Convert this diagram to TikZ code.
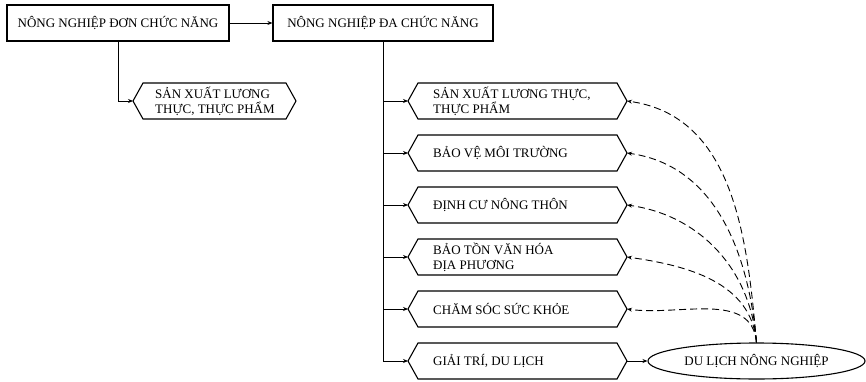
\documentclass[tikz,border=0pt]{standalone}
\usepackage{fontspec}
\setmainfont{Liberation Serif}
\usetikzlibrary{arrows.meta,shapes.geometric}
\newcommand\fs{\fontsize{13}{15}\selectfont}
\tikzset{
 box/.style={draw, line width=1.2pt, minimum height=36pt, inner sep=0pt, font=\fs},
 hexline/.style={line width=1.1pt, line join=miter},
 txt/.style={font=\fs, align=left, inner sep=0pt},
 conn/.style={line width=0.9pt, -{Stealth[length=5pt,width=4pt]}},
 dconn/.style={conn, dash pattern=on 7pt off 4pt},
}
\newcommand\hexbox[6]{%
 \draw[hexline] (#2,#4) -- (#2+10,#4-18) -- (#3-10,#4-18) -- (#3,#4) -- (#3-10,#4+18) -- (#2+10,#4+18) -- cycle;
 \coordinate (#1-w) at (#2,#4);
 \coordinate (#1-e) at (#3,#4);
 \node[txt, anchor=west] (#1) at (#2+#5,#4) {#6};
}
\begin{document}
\begin{tikzpicture}[x=1pt,y=-1pt]
\useasboundingbox (0,0) rectangle (866,382);
\node[box, minimum width=222pt] (b1) at (118,23) {NÔNG NGHIỆP ĐƠN CHỨC NĂNG};
\node[box, minimum width=220pt] (b2) at (383,23) {NÔNG NGHIỆP ĐA CHỨC NĂNG};
\hexbox{l1}{133}{296}{101}{22}{SẢN XUẤT LƯƠNG\\THỰC, THỰC PHẨM}
\hexbox{h1}{408}{627}{101}{25}{SẢN XUẤT LƯƠNG THỰC,\\THỰC PHẨM}
\hexbox{h2}{408}{627}{153}{25}{BẢO VỆ MÔI TRƯỜNG}
\hexbox{h3}{408}{627}{205}{25}{ĐỊNH CƯ NÔNG THÔN}
\hexbox{h4}{408}{627}{257}{25}{BẢO TỒN VĂN HÓA\\ĐỊA PHƯƠNG}
\hexbox{h5}{408}{627}{309}{25}{CHĂM SÓC SỨC KHỎE}
\hexbox{h6}{408}{627}{361}{25}{GIẢI TRÍ, DU LỊCH}
\node[draw, ellipse, line width=1.1pt, minimum width=217pt, minimum height=36pt, inner sep=0pt, font=\fs] (ell) at (756.5,361) {DU LỊCH NÔNG NGHIỆP};
\draw[conn] (b1) -- (b2);
\draw[conn] (b1.south) |- (l1-w);
\foreach \h in {h1,h2,h3,h4,h5,h6} \draw[conn] (b2.south) |- (\h-w);
\draw[conn] (h6-e) -- (ell);
\foreach \h in {h1,h2,h3,h4,h5} \draw[dconn] (ell.north) to[out=95,in=-8] (\h-e);
\end{tikzpicture}
\end{document}
